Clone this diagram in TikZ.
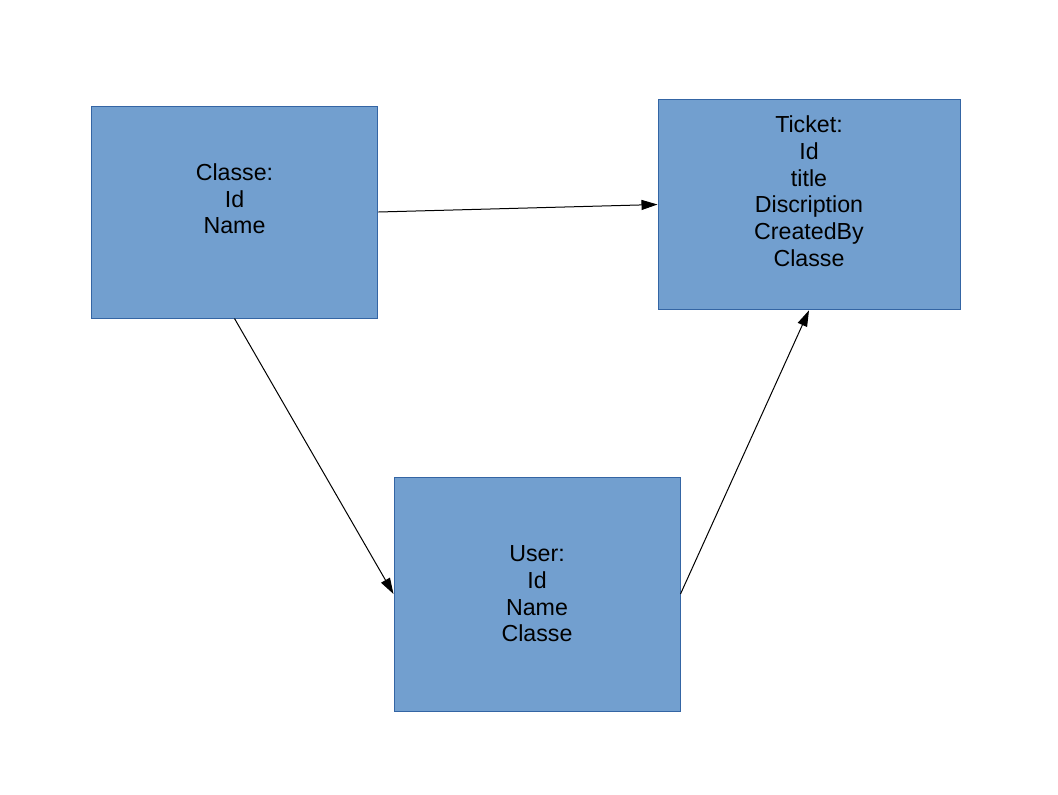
\documentclass[tikz,border=0pt]{standalone}
\usepackage{fontspec}
\setmainfont{Liberation Sans}
\usetikzlibrary{arrows.meta}
\definecolor{boxfill}{HTML}{729FCF}
\definecolor{boxline}{HTML}{3465A4}
\tikzset{>={Triangle[length=12pt,width=7.5pt]}}
\tikzset{ entity/.style={rectangle,draw=boxline,fill=boxfill,line width=0.75pt,align=center,inner sep=0pt,font=\fontsize{17.4}{20}\selectfont} }

\begin{document}
\begin{tikzpicture}[x=0.75pt,y=-0.75pt]
  \useasboundingbox (0,0) rectangle (1058,794);
  % tables
  \node[entity,minimum width=215pt,minimum height=159pt] (classe) at (234.5,212) {Classe:\\Id\\Name\\\mbox{}};
  \node[entity,minimum width=226.5pt,minimum height=158pt] (ticket) at (809,204.5) {Ticket:\\Id\\title\\Discription\\CreatedBy\\Classe\\\mbox{}};
  \node[entity,minimum width=214.5pt,minimum height=175.5pt] (user) at (537,594) {User:\\Id\\Name\\Classe};
  % relations
  \draw[->,line width=0.75pt] (classe.east) -- (ticket.west);
  \draw[->,line width=0.75pt] (classe.south) -- (user.west);
  \draw[->,line width=0.75pt] (user.east) -- (ticket.south);
\end{tikzpicture}
\end{document}
